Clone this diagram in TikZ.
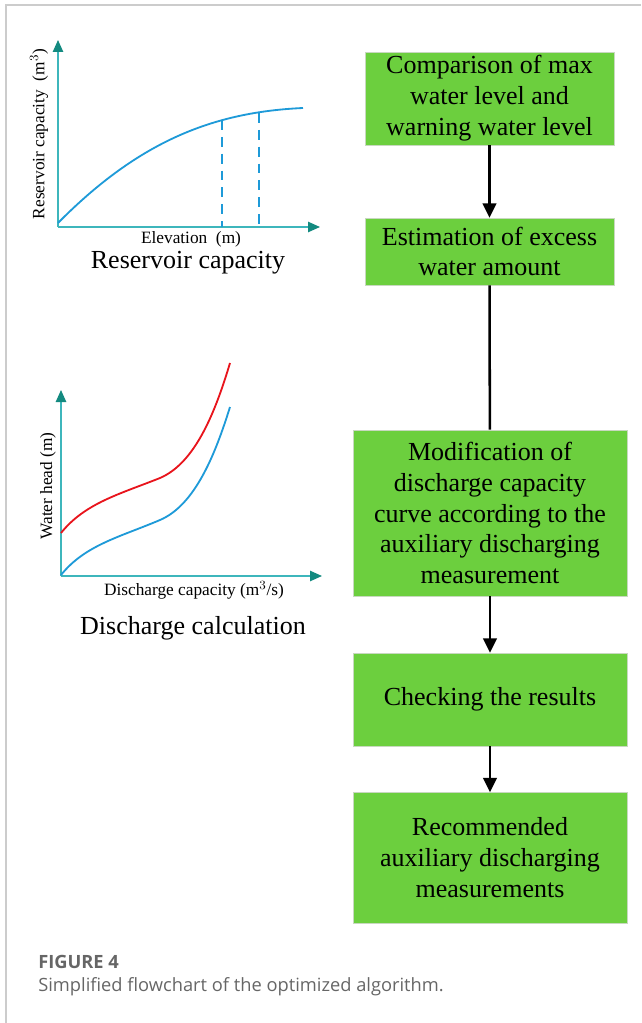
\documentclass[tikz,border=0pt]{standalone}
\usepackage{fontspec}
\setmainfont{Liberation Serif}
\newfontfamily\capfont{Open Sans}
\usepackage{xcolor}
\usepackage{tikz}
\usetikzlibrary{arrows.meta,positioning}
\definecolor{boxg}{HTML}{6CCF3E}
\definecolor{boxedge}{HTML}{C8D8C0}
\definecolor{axl}{HTML}{3DB6BC}
\definecolor{axtip}{HTML}{138A80}
\definecolor{curveb}{HTML}{1E9AD8}
\definecolor{curver}{HTML}{E8141C}
\definecolor{framec}{HTML}{CCCCCC}
\definecolor{capc}{HTML}{666666}
\tikzset{
  stepbox/.style={draw=boxedge,fill=boxg,align=center,inner sep=2pt,
    font=\fontsize{18.5}{22}\selectfont},
  ar/.style={-{Triangle[length=3.6mm,width=3.4mm]},line width=1.8pt,black},
  ax/.style={-{Triangle[length=3mm,width=2.6mm,color=axtip]},line width=1pt,axl},
  lab/.style={font=\fontsize{12.3}{14}\selectfont},
  ttl/.style={font=\fontsize{18.5}{22}\selectfont}
}
\begin{document}
\begin{tikzpicture}[x=0.025cm,y=-0.025cm]
\useasboundingbox (0,0) rectangle (641,1023);
% frame
\draw[framec,line width=1pt] (6,1023)--(6,5)--(641,5);
% reservoir capacity chart
\draw[ax] (58,227)--(58,40);
\draw[ax] (58,227)--(320,227);
\draw[curveb,line width=1.3pt] (58,223) .. controls (140,140) and (215,112) .. (303,108);
\draw[curveb,line width=1.3pt,dash pattern=on 7pt off 5pt] (222,120)--(222,227);
\draw[curveb,line width=1.3pt,dash pattern=on 7pt off 5pt] (259,113)--(259,227);
\node[lab,rotate=90] (ylab1) at (39,134) {Reservoir capacity\ \ (m$^3$)};
\node[lab] (xlab1) at (191,239) {Elevation\ \ (m)};
\node[ttl] (ttl1) at (188,263) {Reservoir capacity};
% discharge chart
\draw[ax] (61,576)--(61,390);
\draw[ax] (61,576)--(322,576);
\draw[curveb,line width=1.3pt] (61,575) .. controls (85,545) and (120,537) .. (160,520)
  .. controls (195,505) and (215,455) .. (230,407);
\draw[curver,line width=1.3pt] (61,533) .. controls (85,503) and (120,494) .. (160,478)
  .. controls (195,463) and (215,413) .. (230,363);
\node[lab,rotate=90] (ylab2) at (48,486) {Water head (m)};
\node[lab] (xlab2) at (194,590) {Discharge capacity (m$^3$/s)};
\node[ttl] (ttl2) at (193,628) {Discharge calculation};
% flowchart
\node[stepbox,minimum width=6.225cm,minimum height=2.325cm] (cmp) at (489.5,98.5)
  {Comparison of max\\water level and\\warning water level};
\node[stepbox,minimum width=6.225cm,minimum height=1.675cm] (est) at (489.5,251.5)
  {Estimation of excess\\water amount};
\node[stepbox,minimum width=6.85cm,minimum height=4.15cm] (mod) at (490,513)
  {Modification of\\discharge capacity\\curve according to the\\auxiliary discharging\\measurement};
\node[stepbox,minimum width=6.85cm,minimum height=2.325cm] (chk) at (490,699.5)
  {Checking the results};
\node[stepbox,minimum width=6.85cm,minimum height=3.275cm] (rec) at (490,858)
  {Recommended\\auxiliary discharging\\measurements};
\draw[ar] (cmp)--(est);
\draw[line width=1.8pt] (est)--(mod);
\draw[ar] (mod)--(chk);
\draw[ar] (chk)--(rec);
% caption
\node[capc,anchor=base west,inner sep=0pt,font=\capfont\bfseries\fontsize{13}{15}\selectfont] (fig) at (38,968) {FIGURE 4};
\node[capc,anchor=base west,inner sep=0pt,font=\capfont\fontsize{13}{15}\selectfont] (cap) at (38,991) {Simplified flowchart of the optimized algorithm.};
\end{tikzpicture}
\end{document}
